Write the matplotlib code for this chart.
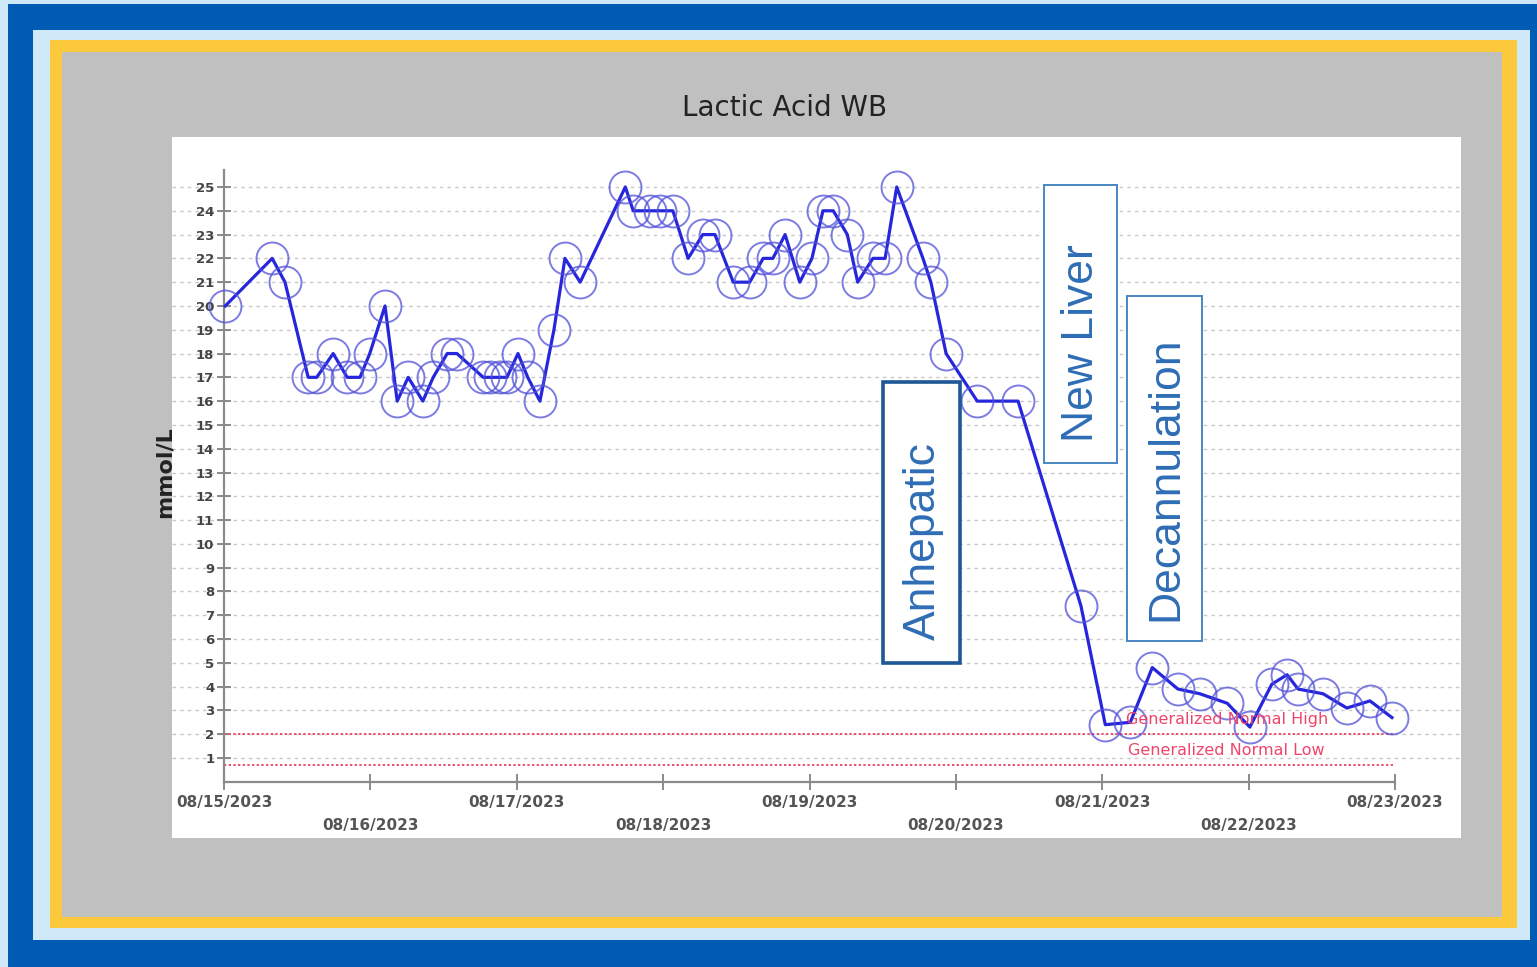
import numpy as np
import matplotlib
matplotlib.use("Agg")
import matplotlib.pyplot as plt
from matplotlib.patches import Rectangle

## data (hours after 08/15/2023 00:00, mmol/L)

hours = [0.2, 7.9, 10.0, 13.8, 15.2, 17.9, 20.2, 22.3, 23.9, 26.4,
         28.4, 30.2, 32.6, 34.3, 36.6, 38.2, 42.5, 43.6, 45.3, 46.4,
         48.2, 49.8, 51.8, 54.1, 55.9, 58.4, 65.8, 67.1, 69.8, 71.5,
         73.6, 76.1, 78.5, 80.5, 83.5, 86.2, 88.4, 90.0, 92.0, 94.4,
         96.4, 98.2, 99.9, 102.2, 103.9, 106.4, 108.4, 110.3, 114.6, 115.9,
         118.4, 123.5, 130.2, 140.5, 144.5, 148.6, 152.2, 156.4, 160.0, 164.5,
         168.2, 171.8, 174.3, 176.1, 180.2, 184.1, 187.9, 191.5]
lactate = [20, 22, 21, 17, 17, 18, 17, 17, 18, 20,
           16, 17, 16, 17, 18, 18, 17, 17, 17, 17,
           18, 17, 16, 19, 22, 21, 25, 24, 24, 24,
           24, 22, 23, 23, 21, 21, 22, 22, 23, 21,
           22, 24, 24, 23, 21, 22, 22, 25, 22, 21,
           18, 16, 16, 7.4, 2.4, 2.5, 4.8, 3.9, 3.7, 3.3,
           2.3, 4.1, 4.5, 3.9, 3.7, 3.1, 3.4, 2.7]

date_labels = ["08/15/2023", "08/16/2023", "08/17/2023", "08/18/2023", "08/19/2023",
               "08/20/2023", "08/21/2023", "08/22/2023", "08/23/2023"]
y_ticks = list(range(1, 26))

normal_high = 2.0
normal_low = 0.7

# event boxes: label, x0, x1 (days), y0, y1 (mmol/L), text centre
events = ["Anhepatic", "New Liver", "Decannulation"]
ev_x = [(4.50, 5.03), (5.60, 6.10), (6.17, 6.68)]
ev_y = [(5.0, 16.8), (13.4, 25.1), (5.9, 20.4)]
ev_text_y = [10.1, 18.45, 12.75]

W, H = 1537, 967


def fr(x0, y0, x1, y1):
    # pixel box -> figure fraction rect
    return (x0 / W, 1 - y1 / H, (x1 - x0) / W, (y1 - y0) / H)


fig = plt.figure(figsize=(W / 100, H / 100), dpi=100, facecolor="#cfe9f8")

# frames
for box, col in [((8, 4, 1537, 967), "#005bb5"),
                 ((33, 30, 1530, 940), "#cfe9f8"),
                 ((50, 40, 1517, 928), "#fdc93c"),
                 ((62, 52, 1502, 917), "#c0c0c0")]:
    x, y, w, h = fr(*box)
    fig.add_artist(Rectangle((x, y), w, h, transform=fig.transFigure,
                             facecolor=col, edgecolor="none", zorder=0))

ax = fig.add_axes(fr(172, 137, 1461, 838))
ax.set_facecolor("white")
ax.set_zorder(1)

ppd = (1395 - 224) / 8.0
ppu = (758 - 187) / 24.0
y0px = 758 + ppu
ax.set_xlim(-(224 - 172) / ppd, (1461 - 224) / ppd)
ax.set_ylim(-(838 - y0px) / ppu, (y0px - 137) / ppu)

# grid
ax.hlines(y_ticks, ax.get_xlim()[0], ax.get_xlim()[1], colors="#c8c8c8",
          linestyles=(0, (2.5, 3)), linewidth=1, zorder=1)

# reference lines
ax.hlines([normal_high, normal_low], 0, 8, colors="#e8506e",
          linestyles=(0, (1.2, 1.2)), linewidth=1.4, zorder=2)
ax.text(6.85, normal_high + 0.62, "Generalized Normal High", color="#f0456a",
        fontsize=11.5, ha="center", va="center", zorder=6)
ax.text(6.85, normal_low + 0.6, "Generalized Normal Low", color="#f0456a",
        fontsize=11.5, ha="center", va="center", zorder=6)

days = np.array(hours) / 24.0
ax.plot(days, lactate, color="#2626dc", linewidth=2.3, zorder=4)
ax.plot(days, lactate, "o", markersize=23, markerfacecolor="none",
        markeredgecolor="#5050d8", markeredgewidth=1.4, alpha=0.75, zorder=5)

# axes
for s in ["top", "right"]:
    ax.spines[s].set_visible(False)
ax.spines["left"].set_position(("data", 0))
ax.spines["bottom"].set_position(("data", 0))
ax.spines["left"].set_bounds(0, 25.7)
ax.spines["bottom"].set_bounds(0, 8)
for s in ["left", "bottom"]:
    ax.spines[s].set_color("#8a8a8a")
    ax.spines[s].set_linewidth(1.6)
    ax.spines[s].set_zorder(3)

ax.set_yticks(y_ticks)
ax.set_yticklabels([str(v) for v in y_ticks], fontsize=9.5, fontweight="bold",
                   color="#444444")
ax.tick_params(axis="y", direction="inout", length=10, width=1.4,
               color="#8a8a8a", pad=2)

ax.set_xticks(range(len(date_labels)))
ax.set_xticklabels([])
ax.tick_params(axis="x", direction="inout", length=12, width=1.4,
               color="#8a8a8a")
for i, lab in enumerate(date_labels):
    yy = -0.85 if i % 2 == 0 else -1.82
    ax.text(i, yy, lab, ha="center", va="center", fontsize=11,
            fontweight="bold", color="#555555")

# event boxes
for k, lab in enumerate(events):
    xa, xb = ev_x[k]
    ya, yb = ev_y[k]
    ec = "#1d5796" if k == 0 else "#4a86c2"
    lw = 2.6 if k == 0 else 1.4
    ax.add_patch(Rectangle((xa, ya), xb - xa, yb - ya, facecolor="white",
                           edgecolor=ec, linewidth=lw, zorder=6))
    ax.text((xa + xb) / 2 + 0.01, ev_text_y[k], lab, rotation=90, ha="center",
            va="center", fontsize=32, color="#2e6db5",
            family="Liberation Sans", zorder=7)

fig.text(785 / W, 1 - 108 / H, "Lactic Acid WB", ha="center", va="center",
         fontsize=20, color="#222222")
fig.text(165 / W, 1 - 472 / H, "mmol/L", rotation=90, ha="center", va="center",
         fontsize=16, fontweight="bold", color="#222222")

fig.savefig("out.png", dpi=100, facecolor=fig.get_facecolor())
